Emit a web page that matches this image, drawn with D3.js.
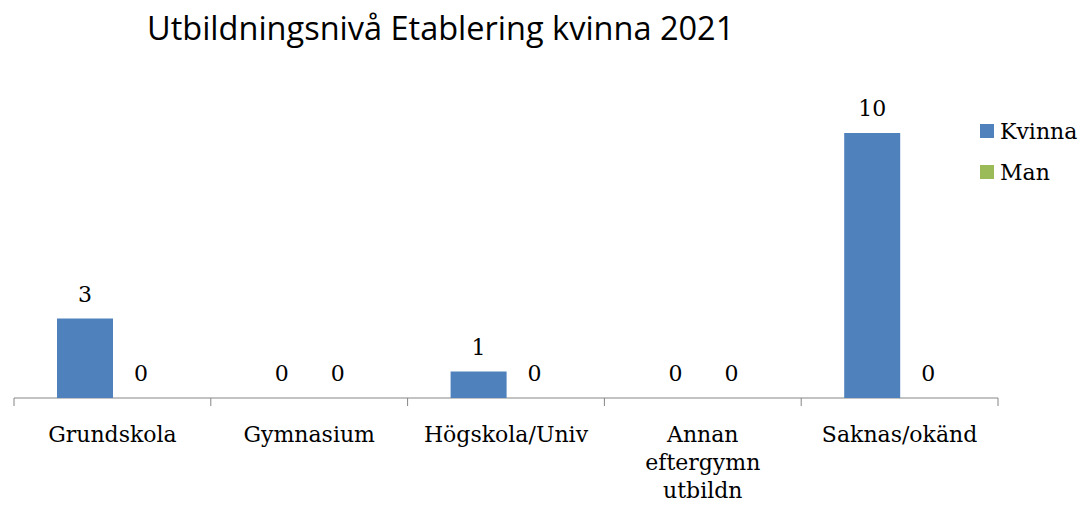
<!DOCTYPE html>
<html>
<head>
<meta charset="utf-8">
<title>Utbildningsnivå</title>
<script src="https://cdn.jsdelivr.net/npm/d3@7/dist/d3.min.js"></script>
<style>
  body { margin: 0; background: #fff; }
  svg text { fill: #000; }
</style>
</head>
<body>
<svg id="chart" width="1084" height="508"></svg>
<script>
var categories = ["Grundskola", "Gymnasium", "Högskola/Univ", "Annan eftergymn utbildn", "Saknas/okänd"];
var catLines = [["Grundskola"], ["Gymnasium"], ["Högskola/Univ"], ["Annan", "eftergymn", "utbildn"], ["Saknas/okänd"]];
var seriesNames = ["Kvinna", "Man"];
var kvinna = [3, 0, 1, 0, 10];
var man = [0, 0, 0, 0, 0];
var colors = ["#4f81bd", "#9bbb59"];

var svg = d3.select("#chart");
var serif = "'DejaVu Serif', serif";

var x = d3.scaleBand().domain(categories).range([14, 998]);
var x1 = d3.scaleBand().domain(seriesNames).range([43, 155]);
var y = d3.scaleLinear().domain([0, 10]).range([398, 133]);

// title
svg.append("text")
  .attr("x", 147).attr("y", 40)
  .style("font-family", "'Open Sans', sans-serif")
  .style("font-size", "32.5px")
  .text("Utbildningsnivå Etablering kvinna 2021");

// axis
var axis = svg.append("g").attr("transform", "translate(0,398)");
axis.append("line").attr("x1", 14).attr("x2", 998).attr("stroke", "#868686");
var ticks = categories.map(function(c) { return x(c); }).concat([998]);
axis.selectAll("line.tick").data(ticks).enter().append("line")
  .attr("class", "tick")
  .attr("x1", function(d) { return d; }).attr("x2", function(d) { return d; })
  .attr("y1", 0).attr("y2", 8).attr("stroke", "#868686");

// category labels
var lab = svg.selectAll("text.cat").data(categories).enter().append("text")
  .attr("class", "cat")
  .attr("text-anchor", "middle")
  .style("font-family", serif).style("font-size", "22px");
lab.each(function(d, i) {
  var t = d3.select(this);
  catLines[i].forEach(function(s, j) {
    t.append("tspan").attr("x", x(d) + x.bandwidth() / 2).attr("y", 442 + j * 28).text(s);
  });
});

// bars
var data = [];
categories.forEach(function(c, i) {
  data.push({ cat: c, s: "Kvinna", v: kvinna[i] });
  data.push({ cat: c, s: "Man", v: man[i] });
});
svg.selectAll("rect.bar").data(data).enter().append("rect")
  .attr("class", "bar")
  .attr("x", function(d) { return x(d.cat) + x1(d.s); })
  .attr("width", x1.bandwidth())
  .attr("y", function(d) { return y(d.v); })
  .attr("height", function(d) { return 398 - y(d.v); })
  .attr("fill", function(d) { return colors[seriesNames.indexOf(d.s)]; });

svg.selectAll("text.val").data(data).enter().append("text")
  .attr("class", "val")
  .attr("text-anchor", "middle")
  .attr("x", function(d) { return x(d.cat) + x1(d.s) + x1.bandwidth() / 2; })
  .attr("y", function(d) { return y(d.v) - 17; })
  .style("font-family", serif).style("font-size", "22px")
  .text(function(d) { return d.v; });

// legend
var leg = svg.selectAll("g.leg").data(seriesNames).enter().append("g")
  .attr("class", "leg")
  .attr("transform", function(d, i) { return "translate(980," + (124 + i * 41) + ")"; });
leg.append("rect").attr("width", 14).attr("height", 14)
  .attr("fill", function(d, i) { return colors[i]; });
leg.append("text").attr("x", 20).attr("y", 15)
  .style("font-family", serif).style("font-size", "22px")
  .text(function(d) { return d; });
</script>
</body>
</html>
